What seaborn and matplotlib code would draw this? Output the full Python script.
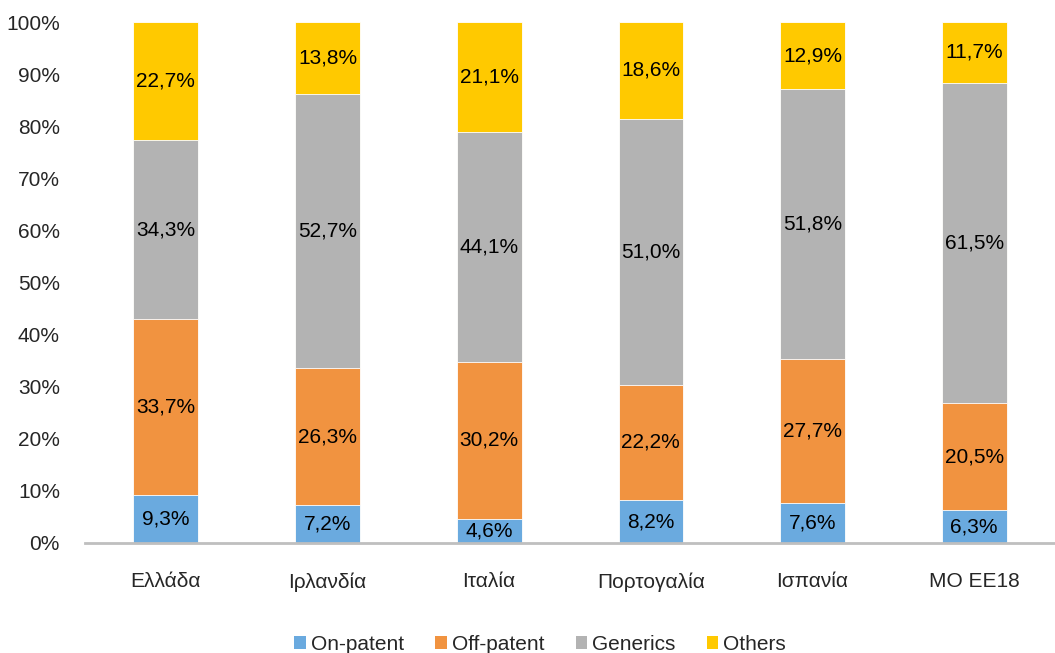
import numpy as np
import pandas as pd
import matplotlib
matplotlib.use("Agg")
import matplotlib.pyplot as plt
import seaborn as sns
from matplotlib.patches import Patch

countries = ["Ελλάδα", "Ιρλανδία", "Ιταλία", "Πορτογαλία", "Ισπανία", "ΜΟ ΕΕ18"]
series_names = ["On-patent", "Off-patent", "Generics", "Others"]
on_patent = [9.3, 7.2, 4.6, 8.2, 7.6, 6.3]
off_patent = [33.7, 26.3, 30.2, 22.2, 27.7, 20.5]
generics = [34.3, 52.7, 44.1, 51.0, 51.8, 61.5]
others = [22.7, 13.8, 21.1, 18.6, 12.9, 11.7]
colors = ["#6AAADF", "#F19340", "#B3B3B3", "#FFC900"]
yticks = [0, 10, 20, 30, 40, 50, 60, 70, 80, 90, 100]

sns.set_theme(style="white")
plt.rcParams["font.family"] = ["Liberation Sans", "DejaVu Sans"]
FS = 15

series = [on_patent, off_patent, generics, others]
df = pd.DataFrame({name: vals for name, vals in zip(series_names, series)})
df["country"] = countries
cum = df[series_names].cumsum(axis=1)

fig = plt.figure(figsize=(10.55, 6.53), dpi=100)
ax = fig.add_axes([85 / 1055, 1 - 543 / 653, 1 - 85 / 1055, 521 / 653])

# stacked bars: draw cumulative totals from the top layer downwards
for name, color in reversed(list(zip(series_names, colors))):
    sns.barplot(x=df["country"], y=cum[name], color=color, width=0.4,
                saturation=1, edgecolor="white", linewidth=0.6, ax=ax)

# value labels centred in each segment
for i in range(len(countries)):
    bottom = 0.0
    for name in series_names:
        v = df.loc[i, name]
        ax.text(i, bottom + v / 2, f"{v:.1f}%".replace(".", ","),
                ha="center", va="center", fontsize=FS, color="black")
        bottom += v

ax.set_ylim(0, 100)
ax.set_xlim(-0.5, len(countries) - 0.5)
ax.set_yticks(yticks)
ax.set_yticklabels([f"{t}%" for t in yticks], fontsize=FS)
ax.tick_params(axis="x", labelsize=FS, pad=21, length=0)
ax.tick_params(axis="y", pad=18, length=0)
ax.set_xlabel("")
ax.set_ylabel("")
for s in ["top", "right", "left"]:
    ax.spines[s].set_visible(False)
ax.spines["bottom"].set_color("#BFBFBF")
ax.spines["bottom"].set_linewidth(2)

handles = [Patch(facecolor=c, edgecolor="none") for c in colors]
fig.legend(handles, series_names, loc="center", bbox_to_anchor=(0.512, 0.013),
           ncol=4, frameon=False, fontsize=FS, handlelength=0.55, handleheight=0.55,
           handletextpad=0.25, columnspacing=1.5)

fig.savefig("out.png", dpi=100)
